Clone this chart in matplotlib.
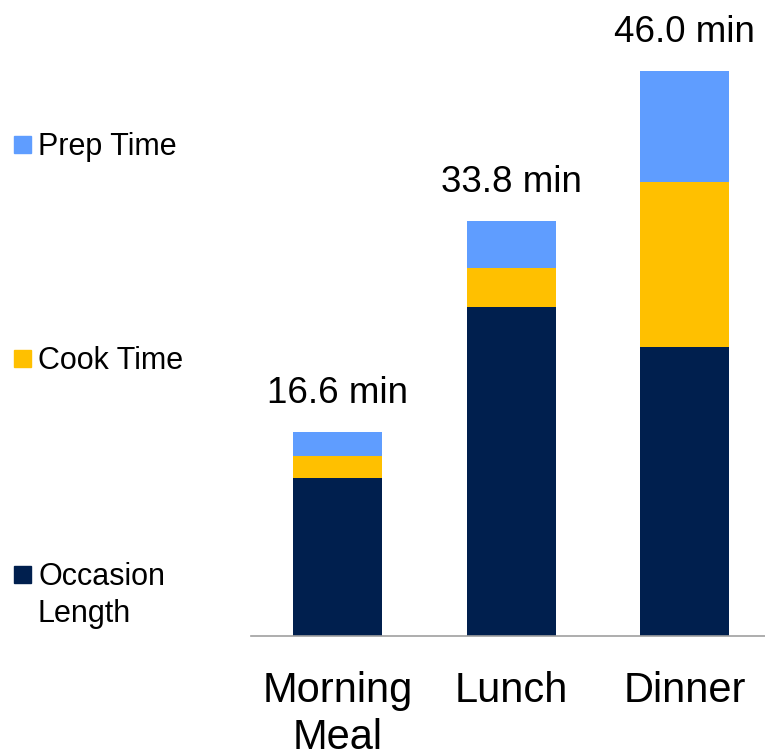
import matplotlib
matplotlib.use("Agg")
import matplotlib.pyplot as plt
from matplotlib.patches import Rectangle

plt.rcParams["font.family"] = ["Liberation Sans", "DejaVu Sans"]

# 食事の種類ごとの所要時間（分）
meals      = ["Morning\nMeal", "Lunch", "Dinner"]
occasion   = [12.9, 26.8, 23.5]
cook       = [1.8, 3.2, 13.5]
prep       = [1.9, 3.8, 9.0]
totals     = [16.6, 33.8, 46.0]
series     = ["Occasion\nLength", "Cook Time", "Prep Time"]

NAVY  = "#001F4E"
GOLD  = "#FFC000"
BLUE  = "#5F9DFF"

fig = plt.figure(figsize=(7.65, 7.54), dpi=100)
ax = fig.add_axes([251 / 765, 118 / 754, 1 - 251 / 765, 636 / 754])

x = range(len(meals))
w = 0.513
ax.bar(x, occasion, w, color=NAVY)
bottom2 = [o for o in occasion]
ax.bar(x, cook, w, bottom=bottom2, color=GOLD)
bottom3 = [o + c for o, c in zip(occasion, cook)]
ax.bar(x, prep, w, bottom=bottom3, color=BLUE)

for xi, t in zip(x, totals):
    ax.annotate(f"{t:.1f} min", (xi, t), xytext=(0, 21), textcoords="offset points",
                ha="center", va="baseline", fontsize=26.5)

ax.set_xlim(-0.5, 2.464)
ax.set_ylim(0, 51.8)
ax.set_xticks(list(x))
ax.set_xticklabels(meals, fontsize=30, linespacing=1.25)
ax.tick_params(axis="x", length=0, pad=25)
ax.set_yticks([])
for s in ["top", "right", "left"]:
    ax.spines[s].set_visible(False)
ax.spines["bottom"].set_color("#A0A0A0")
ax.spines["bottom"].set_linewidth(1.2)

# 凡例（左側に縦に配置）: 各行のベースライン位置（px）
legend_base = [585, 369, 155]
legend_colors = [NAVY, GOLD, BLUE]
for name, yb, col in zip(series, legend_base, legend_colors):
    fig.patches.append(Rectangle((14 / 765, 1 - (yb - 2) / 754), 17 / 765, 17 / 754,
                                 transform=fig.transFigure, color=col))
    for k, line in enumerate(name.split("\n")):
        fig.text(38 / 765, 1 - (yb + 37 * k) / 754, line, fontsize=22,
                 va="baseline", ha="left")

fig.savefig("out.png", dpi=100)
